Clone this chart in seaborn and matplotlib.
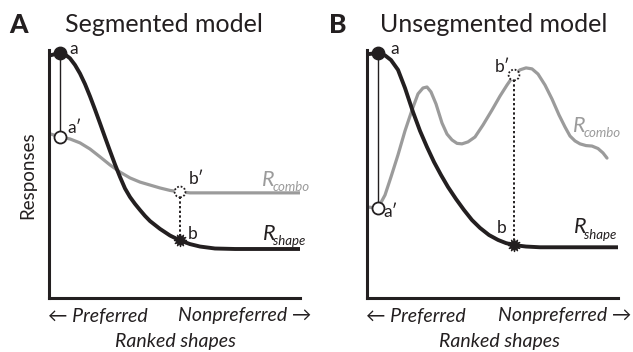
import matplotlib
matplotlib.use("Agg")
import matplotlib.pyplot as plt
import seaborn as sns
import pandas as pd

# ---- Segmented model: rank positions and normalized responses ----
seg_shape_rank = [0, 10, 15, 20, 25, 30, 35, 40, 45, 50, 55, 60, 65, 70, 75, 80, 85, 90,
                  95, 100, 110, 120, 130, 140, 150, 165, 185, 250]
seg_shape_resp = [0.99, 1.000, 0.994, 0.978, 0.951, 0.916, 0.873, 0.823, 0.769, 0.713,
                  0.656, 0.600, 0.545, 0.494, 0.447, 0.412, 0.384, 0.359, 0.335, 0.314,
                  0.282, 0.255, 0.235, 0.220, 0.210, 0.202, 0.200, 0.200]
seg_combo_rank = [0, 10, 20, 30, 40, 50, 60, 70, 80, 90, 100, 110, 120, 130, 140, 250]
seg_combo_resp = [0.670, 0.657, 0.649, 0.633, 0.608, 0.576, 0.543, 0.514, 0.490, 0.473,
                  0.461, 0.449, 0.439, 0.433, 0.429, 0.429]

# ---- Unsegmented model ----
unseg_shape_rank = [0, 10, 17, 23, 30, 37, 45, 52, 59, 66, 73, 80, 88, 96, 104, 112, 121,
                    130, 138, 146, 158, 172, 250]
unseg_shape_resp = [0.995, 1.000, 0.990, 0.971, 0.931, 0.857, 0.759, 0.682, 0.616, 0.555,
                    0.502, 0.453, 0.404, 0.359, 0.318, 0.286, 0.257, 0.237, 0.224, 0.216,
                    0.210, 0.207, 0.207]
unseg_combo_rank = [0, 10, 17, 23, 30, 37, 44, 50, 55, 59, 63, 68, 74, 79, 84, 89, 94, 100,
                    107, 115, 124, 132, 139, 146, 152, 158, 164, 170, 177, 184, 191, 197,
                    202, 207, 212, 218, 224, 230, 235, 239]
unseg_combo_resp = [0.371, 0.367, 0.420, 0.494, 0.584, 0.682, 0.767, 0.833, 0.857, 0.861,
                    0.841, 0.792, 0.714, 0.669, 0.645, 0.631, 0.629, 0.637, 0.657, 0.706,
                    0.767, 0.824, 0.869, 0.910, 0.931, 0.939, 0.935, 0.914, 0.869, 0.812,
                    0.747, 0.698, 0.661, 0.641, 0.629, 0.622, 0.620, 0.610, 0.592, 0.571]

# Highlighted points: preferred (a, a') and nonpreferred (b, b') shapes
seg_pref_rank, seg_nonpref_rank = 10, 130
unseg_pref_rank, unseg_nonpref_rank = 10, 146

panel_letters = ["A", "B"]
panel_titles = ["Segmented model", "Unsegmented model"]
y_label = "Responses"
x_left_label = "\u2190 Preferred"
x_right_label = "Nonpreferred \u2192"
x_label = "Ranked shapes"

DARK = "#231f20"
GRAY = "#9b9b9b"
W, H = 633, 352

sns.set_theme(style="white")
plt.rcParams["font.family"] = ["Lato", "DejaVu Sans"]
plt.rcParams["text.color"] = DARK

fig = plt.figure(figsize=(W / 100, H / 100), dpi=100)


def fx(px):
    return px / W


def fy(py):
    return 1 - py / H


def draw_panel(ax, shape_rank, shape_resp, combo_rank, combo_resp, pref, nonpref):
    shape = pd.DataFrame({"rank": shape_rank, "resp": shape_resp})
    combo = pd.DataFrame({"rank": combo_rank, "resp": combo_resp})
    sns.lineplot(data=combo, x="rank", y="resp", ax=ax, color=GRAY, lw=2.3,
                 sort=False, estimator=None, zorder=2)
    sns.lineplot(data=shape, x="rank", y="resp", ax=ax, color=DARK, lw=2.8,
                 sort=False, estimator=None, zorder=3)

    a = shape.loc[shape["rank"] == pref, "resp"].iloc[0]
    a2 = combo.loc[combo["rank"] == pref, "resp"].iloc[0]
    b = shape.loc[shape["rank"] == nonpref, "resp"].iloc[0]
    b2 = combo.loc[combo["rank"] == nonpref, "resp"].iloc[0]

    ax.plot([pref, pref], [a, a2], color=DARK, lw=1.0, zorder=4)
    ax.plot([nonpref, nonpref], [b2, b], color=DARK, lw=1.4, ls=(0, (1.2, 1.2)), zorder=4)

    ax.scatter([pref], [a], s=80, color=DARK, zorder=6, clip_on=False)
    ax.scatter([pref], [a2], s=75, facecolor="white", edgecolor=DARK, lw=1.3,
               zorder=6, clip_on=False)
    ax.scatter([nonpref], [b2], s=60, facecolor="white", edgecolor=DARK, lw=1.3,
               linestyle=(0, (1, 1)), zorder=6)
    ax.scatter([nonpref], [b], s=75, color=DARK, marker=(12, 1, 0), zorder=6)
    return a, a2, b, b2


positions = [(49, 300), (367, 618)]
axes = []
for (left, right) in positions:
    ax = fig.add_axes([fx(left), fy(298), (right - left) / W, 248 / H])
    axes.append(ax)

draw_panel(axes[0], seg_shape_rank, seg_shape_resp, seg_combo_rank, seg_combo_resp,
           seg_pref_rank, seg_nonpref_rank)
draw_panel(axes[1], unseg_shape_rank, unseg_shape_resp, unseg_combo_rank, unseg_combo_resp,
           unseg_pref_rank, unseg_nonpref_rank)

for ax in axes:
    ax.set_xlim(-1, 250)
    ax.set_ylim(0, 1.012)
    ax.set_xticks([])
    ax.set_yticks([])
    ax.set_xlabel("")
    ax.set_ylabel("")
    for side in ("top", "right"):
        ax.spines[side].set_visible(False)
    for side in ("left", "bottom"):
        ax.spines[side].set_color(DARK)
        ax.spines[side].set_linewidth(2.2)
        ax.spines[side].set_capstyle("projecting")

lab = dict(fontsize=12.5, color=DARK, va="center")
R_SIZE, SUB_SIZE = 15.5, 9.5
# Segmented panel annotations
axA, axB = axes
axA.text(19, 1.016, "a", ha="left", **lab)
axA.text(17, 0.694, "a\u2032", ha="left", **lab)
axA.text(139, 0.486, "b\u2032", ha="left", **lab)
axA.text(138, 0.261, "b", ha="left", **lab)
axA.text(212, 0.457, "R", fontsize=R_SIZE, style="italic", color=GRAY, ha="left", va="baseline")
axA.text(223, 0.437, "combo", fontsize=SUB_SIZE, style="italic", color=GRAY, ha="left", va="baseline")
axA.text(213, 0.237, "R", fontsize=R_SIZE, style="italic", color=DARK, ha="left", va="baseline")
axA.text(223, 0.216, "shape", fontsize=SUB_SIZE, style="italic", color=DARK, ha="left", va="baseline")

# Unsegmented panel annotations
axB.text(22, 1.016, "a", ha="left", **lab)
axB.text(15, 0.351, "a\u2032", ha="left", **lab)
axB.text(142, 0.943, "b\u2032", ha="right", **lab)
axB.text(139, 0.286, "b", ha="right", **lab)
axB.text(205, 0.678, "R", fontsize=R_SIZE, style="italic", color=GRAY, ha="left", va="baseline")
axB.text(216, 0.657, "combo", fontsize=SUB_SIZE, style="italic", color=GRAY, ha="left", va="baseline")
axB.text(206, 0.265, "R", fontsize=R_SIZE, style="italic", color=DARK, ha="left", va="baseline")
axB.text(216, 0.241, "shape", fontsize=SUB_SIZE, style="italic", color=DARK, ha="left", va="baseline")

# Panel letters and titles
fig.text(fx(18.5), fy(25), panel_letters[0], fontsize=19, fontweight="black", ha="center", va="center")
fig.text(fx(337.5), fy(25), panel_letters[1], fontsize=19, fontweight="black", ha="center", va="center")
fig.text(fx(164), fy(24), panel_titles[0], fontsize=18, ha="center", va="center")
fig.text(fx(494), fy(24), panel_titles[1], fontsize=18, ha="center", va="center")

# Axis labels
fig.text(fx(27.5), fy(175.5), y_label, fontsize=13.5, rotation=90, ha="center", va="center")
for cx_pref, cx_non, cx_mid in [(97.5, 245, 175.5), (416, 564.5, 499.5)]:
    fig.text(fx(cx_pref), fy(316), x_left_label, fontsize=14, style="italic",
             ha="center", va="center")
    fig.text(fx(cx_non), fy(316), x_right_label, fontsize=14, style="italic",
             ha="center", va="center")
    fig.text(fx(cx_mid), fy(342), x_label, fontsize=14, style="italic",
             ha="center", va="center")

fig.savefig("out.png", dpi=100, facecolor="white")
